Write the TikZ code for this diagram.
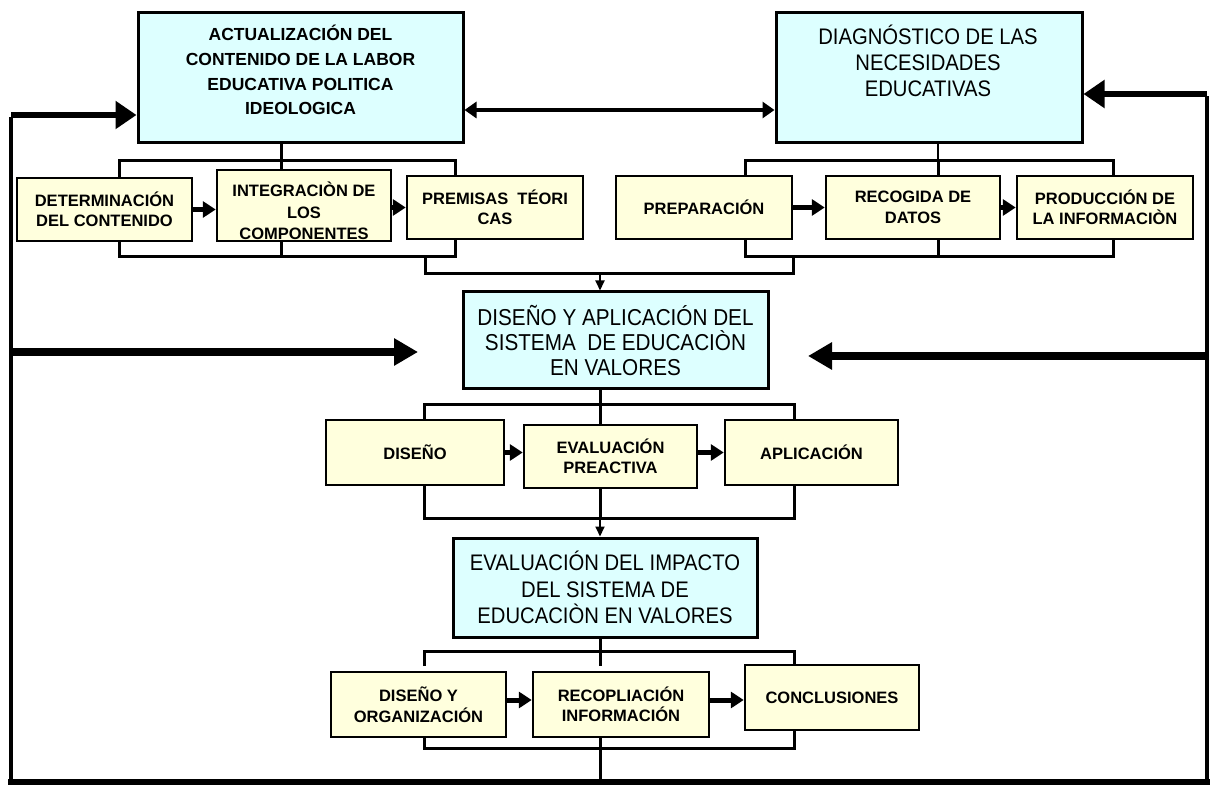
\documentclass[tikz,border=0pt]{standalone}
\usepackage{fontspec}
\setmainfont{Liberation Sans}
\newfontfamily\condfont{Liberation Sans}[FakeStretch=0.9]
\usetikzlibrary{arrows.meta}
\definecolor{boxcyan}{RGB}{221,255,255}
\definecolor{boxyel}{RGB}{255,255,221}
\begin{document}
\begin{tikzpicture}[x=1pt,y=-1pt,
  bigbox/.style={draw=black, line width=3pt, fill=boxcyan, inner sep=0pt, align=center},
  bigtxt/.style={align=center, inner sep=0pt},
  smallbox/.style={draw=black, line width=2.5pt, fill=boxyel, align=center, inner sep=0pt,
    font=\bfseries\fontsize{16.5}{20.5}\selectfont},
  stxt/.style={align=center, inner sep=0pt, font=\bfseries\fontsize{16.5}{21.5}\selectfont},
  bus/.style={draw=black, line width=3pt},
  thinbus/.style={draw=black, line width=1.2pt},
  side/.style={draw=black, line width=3.5pt},
  fbarrow/.style={draw=black, line width=6pt, -{Triangle[length=21pt,width=27pt]}},
  midarrow/.style={draw=black, line width=7.5pt, -{Triangle[length=24pt,width=26pt]}},
  dbl/.style={draw=black, line width=4pt, {Triangle[length=12pt,width=16pt]}-{Triangle[length=12pt,width=16pt]}},
  flow/.style={draw=black, line width=5pt, -{Triangle[length=13pt,width=16pt]}},
  down/.style={draw=black, line width=2pt, -{Triangle[length=10pt,width=9pt]}}
]
\useasboundingbox (0,0) rectangle (1211,786);
\fill[white] (0,0) rectangle (1211,786);

% ---------- big boxes ----------
\node[bigbox, minimum width=325pt, minimum height=130pt] (tl) at (300.5,78) {};
\node[bigtxt, font=\bfseries\fontsize{17.5}{24.7}\selectfont] (tlt) at (300.5,70)
  {ACTUALIZACIÓN DEL\\CONTENIDO DE LA LABOR\\EDUCATIVA POLITICA\\IDEOLOGICA};
\node[bigbox, minimum width=306pt, minimum height=130pt] (tr) at (929,78) {};
\node[bigtxt, font=\condfont\fontsize{22.5}{26}\selectfont] (trt) at (928,61)
  {DIAGNÓSTICO DE LAS\\NECESIDADES\\EDUCATIVAS};
\node[bigbox, minimum width=305pt, minimum height=97pt, font=\condfont\fontsize{23}{25}\selectfont] (mid) at (615.5,340.5)
  {DISEÑO Y APLICACIÓN DEL\\SISTEMA \ DE EDUCACIÒN\\EN VALORES};
\node[bigbox, minimum width=304pt, minimum height=99pt, font=\condfont\fontsize{22.5}{26.5}\selectfont] (ev) at (605,587.5)
  {EVALUACIÓN DEL IMPACTO\\DEL SISTEMA DE\\EDUCACIÒN EN VALORES};

% ---------- small boxes: left row ----------
\node[smallbox, minimum width=175pt, minimum height=63pt] (det) at (104.5,209.5) {DETERMINACIÓN\\DEL CONTENIDO};
\node[smallbox, minimum width=174pt, minimum height=71pt] (int) at (304,205.5) {};
\node[stxt] (intt) at (304,211) {INTEGRACIÒN DE\\LOS\\COMPONENTES};
\node[smallbox, minimum width=176pt, minimum height=63pt] (prem) at (495,207.5) {PREMISAS \ TÉORI\\CAS};
% right row
\node[smallbox, minimum width=176pt, minimum height=63pt] (prep) at (704,207.5) {PREPARACIÓN};
\node[smallbox, minimum width=174pt, minimum height=63pt] (reco) at (913,207.5) {RECOGIDA DE\\DATOS};
\node[smallbox, minimum width=176pt, minimum height=63pt] (prod) at (1105,207.5) {PRODUCCIÓN DE\\LA INFORMACIÒN};
% middle row
\node[smallbox, minimum width=178pt, minimum height=65pt] (dis) at (415,452.5) {DISEÑO};
\node[smallbox, minimum width=173pt, minimum height=63pt] (preact) at (610.5,456.5) {EVALUACIÓN\\PREACTIVA};
\node[smallbox, minimum width=173pt, minimum height=65pt] (apl) at (811.5,452.5) {APLICACIÓN};
% bottom row
\node[smallbox, minimum width=175pt, minimum height=65pt] (dorg) at (418.5,704.5) {DISEÑO Y\\ORGANIZACIÓN};
\node[smallbox, minimum width=176pt, minimum height=65pt] (reco2) at (621,704.5) {RECOPLIACIÓN\\INFORMACIÓN};
\node[smallbox, minimum width=174pt, minimum height=65pt] (conc) at (832,697.5) {CONCLUSIONES};

% ---------- coordinates ----------
\coordinate (ls) at (281,0);
\coordinate (lb1) at (119,161); \coordinate (lb2) at (455,161);
\coordinate (lc1) at (119,257); \coordinate (lc2) at (455,257);
\coordinate (lm) at (425,257);
\coordinate (rs) at (938,0);
\coordinate (rb1) at (745,161); \coordinate (rb2) at (1113,161);
\coordinate (rc1) at (745,257); \coordinate (rc2) at (1113,257);
\coordinate (rm) at (793,257);
\coordinate (jn) at (600,274);
\coordinate (cx) at (600,0);
\coordinate (mb1) at (424,405); \coordinate (mb2) at (794,405);
\coordinate (mc1) at (424,518); \coordinate (mc2) at (794,518);
\coordinate (eb1) at (424,651); \coordinate (eb2) at (794,651);
\coordinate (ed) at (0,666);
\coordinate (ec1) at (424,748); \coordinate (ec2) at (794,748);
\coordinate (bl) at (11,782); \coordinate (br) at (1207,782);
\coordinate (tlin) at (11,115); \coordinate (trin) at (1207,94);
\coordinate (mlin) at (11,352); \coordinate (mltip) at (418,352);
\coordinate (mrin) at (1207,356); \coordinate (mrtip) at (808,356);
\coordinate (dy) at (0,110);
\coordinate (ay) at (0,700);

% ---------- left group buses ----------
\draw[bus] (det.north -| lb1) -- (lb1) -- (lb2) -- (prem.north -| lb2);
\draw[bus] (tl.south -| ls) -- (int.north -| ls);
\draw[bus] (det.south -| lc1) -- (lc1) -- (lc2) -- (prem.south -| lc2);
\draw[bus] (int.south -| ls) -- (ls |- lc1);
\draw[bus] (lm) -- (lm |- jn) -- (jn);
% right group buses
\draw[thinbus] (tr.south -| rs) -- (rs |- rb1);
\draw[bus] (rs |- rb1) -- (reco.north -| rs);
\draw[bus] (prep.north -| rb1) -- (rb1) -- (rb2) -- (prod.north -| rb2);
\draw[bus] (prep.south -| rc1) -- (rc1) -- (rc2) -- (prod.south -| rc2);
\draw[bus] (reco.south -| rs) -- (rs |- rc1);
\draw[bus] (rm) -- (rm |- jn) -- (jn);
\draw[down] (jn) -- (jn |- mid.north);
% middle group
\draw[bus] (mid.south -| cx) -- (preact.north -| cx);
\draw[bus] (dis.north -| mb1) -- (mb1) -- (mb2) -- (apl.north -| mb2);
\draw[bus] (dis.south -| mc1) -- (mc1) -- (mc2) -- (apl.south -| mc2);
\draw[bus] (preact.south -| cx) -- (cx |- mc1);
\draw[down] (cx |- mc1) -- (ev.north -| cx);
% evaluation group
\draw[bus] (ev.south -| cx) -- (cx |- ed);
\draw[bus] (eb1 |- ed) -- (eb1) -- (eb2) -- (conc.north -| eb2);
\draw[bus] (dorg.south -| ec1) -- (ec1) -- (ec2) -- (conc.south -| ec2);
\draw[bus] (reco2.south -| cx) -- (cx |- bl);

% ---------- step arrows ----------
\draw[flow] (det.east) -- (int.west |- det.east);
\draw[flow] (int.east |- prem.east) -- (prem.west);
\draw[flow] (prep.east) -- (reco.west);
\draw[flow] (reco.east) -- (prod.west);
\draw[flow] (dis.east) -- (preact.west |- dis.east);
\draw[flow] (preact.east |- apl.east) -- (apl.west);
\draw[flow] (dorg.east |- ay) -- (reco2.west |- ay);
\draw[flow] (reco2.east |- ay) -- (conc.west |- ay);

% ---------- feedback loop ----------
\draw[draw=black, line width=6pt] ([xshift=-3pt]bl) -- ([xshift=3pt]br);
\draw[side] (bl) -- ([yshift=-2pt]tlin);
\draw[side] (br) -- ([yshift=-2pt]trin);
\draw[fbarrow] (tlin) -- (tlin -| tl.west);
\draw[fbarrow] (trin) -- (trin -| tr.east);
\draw[midarrow] (mlin) -- (mltip);
\draw[midarrow] (mrin) -- (mrtip);
\draw[dbl] (tl.east |- dy) -- (tr.west |- dy);
\end{tikzpicture}
\end{document}
